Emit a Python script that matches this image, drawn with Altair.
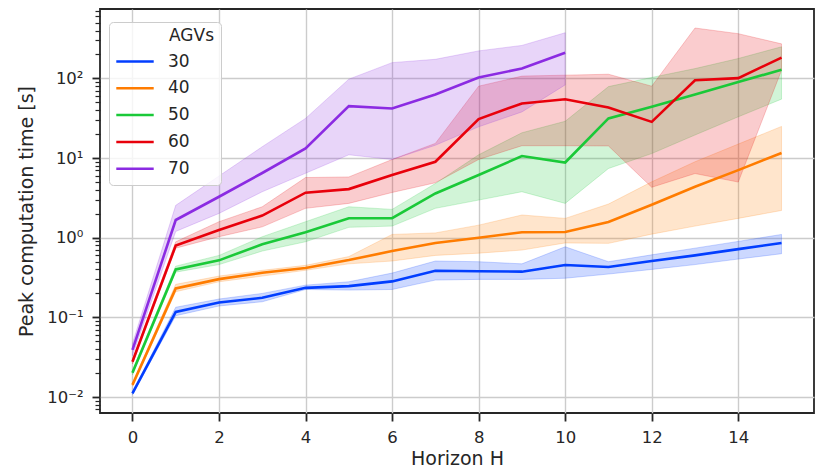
import altair as alt
import pandas as pd

H = list(range(16))
H70 = list(range(11))
groups = ["30", "40", "50", "60", "70"]
colors = ["#023eff", "#ff7c00", "#1ac938", "#e8000b", "#8b2be2"]

mean30 = [0.0111, 0.117, 0.154, 0.176, 0.235, 0.247, 0.283, 0.385, 0.38, 0.375, 0.455, 0.43, 0.51, 0.60, 0.72, 0.86]
lo30 = [0.0107, 0.105, 0.139, 0.157, 0.224, 0.22, 0.224, 0.294, 0.30, 0.30, 0.31, 0.35, 0.40, 0.46, 0.54, 0.63]
hi30 = [0.0116, 0.134, 0.17, 0.20, 0.254, 0.28, 0.36, 0.51, 0.50, 0.47, 0.77, 0.50, 0.61, 0.74, 0.90, 1.1]

mean40 = [0.0142, 0.231, 0.302, 0.363, 0.416, 0.524, 0.68, 0.86, 1.0, 1.17, 1.18, 1.58, 2.6, 4.36, 7.07, 11.6]
lo40 = [0.0137, 0.21, 0.28, 0.33, 0.39, 0.47, 0.51, 0.60, 0.64, 0.70, 0.86, 0.85, 1.11, 1.4, 1.75, 2.2]
hi40 = [0.0148, 0.26, 0.33, 0.39, 0.45, 0.58, 1.1, 1.15, 1.44, 1.93, 1.75, 2.65, 5.04, 9.0, 15.0, 25.0]

mean50 = [0.0202, 0.40, 0.52, 0.83, 1.17, 1.76, 1.76, 3.6, 6.13, 10.6, 8.8, 31.5, 44.0, 63.0, 90.0, 129.0]
lo50 = [0.019, 0.37, 0.46, 0.68, 0.89, 1.35, 1.4, 2.34, 2.97, 3.78, 2.7, 7.4, 11.4, 19.5, 33.0, 55.0]
hi50 = [0.0215, 0.44, 0.60, 1.03, 1.59, 2.45, 2.27, 4.8, 11.0, 20.8, 29.0, 79.0, 103.0, 133.0, 178.0, 250.0]

mean60 = [0.0277, 0.80, 1.25, 1.9, 3.68, 4.08, 6.13, 9.0, 30.9, 48.6, 54.9, 43.3, 28.5, 95.0, 101.0, 183.0]
lo60 = [0.026, 0.74, 1.03, 1.37, 2.34, 2.7, 3.7, 4.9, 9.6, 14.3, 14.3, 14.2, 4.3, 6.4, 5.0, 127.0]
hi60 = [0.0295, 0.89, 1.59, 2.45, 5.7, 5.8, 9.6, 15.3, 80.0, 107.0, 110.0, 113.0, 80.0, 430.0, 365.0, 272.0]

mean70 = [0.039, 1.67, 3.27, 6.5, 13.2, 45.0, 42.0, 63.0, 103.0, 133.0, 210.0]
lo70 = [0.033, 1.2, 2.02, 3.78, 6.45, 11.0, 9.6, 14.5, 24.7, 38.0, 83.0]
hi70 = [0.047, 2.55, 5.96, 13.9, 31.5, 98.0, 158.0, 174.0, 222.0, 260.0, 375.0]

series = [
    ("30", H, mean30, lo30, hi30),
    ("40", H, mean40, lo40, hi40),
    ("50", H, mean50, lo50, hi50),
    ("60", H, mean60, lo60, hi60),
    ("70", H70, mean70, lo70, hi70),
]
rows = []
for g, xs, m, lo, hi in series:
    for x, a, b, c in zip(xs, m, lo, hi):
        rows.append({"H": x, "AGVs": g, "mean": a, "lo": b, "hi": c})
df = pd.DataFrame(rows)

major_y = [0.01, 0.1, 1, 10, 100]
minor_y = [k * 10.0 ** e for e in range(-3, 3) for k in range(2, 10)]
minor_y = [v for v in minor_y if 0.0063 <= v <= 745]
y_ticks = sorted(major_y + minor_y)
x_ticks = [0, 2, 4, 6, 8, 10, 12, 14]

TXT = "#262626"
FONT = "DejaVu Sans"

xscale = alt.Scale(domain=[-0.75, 15.75], nice=False, zero=False)
yscale = alt.Scale(type="log", domain=[0.0063, 745], nice=False)
cscale = alt.Scale(domain=groups, range=colors)

is_major = "abs(log(datum.value) / LN10 - round(log(datum.value) / LN10)) < 1e-6"
label_expr = ("!(" + is_major + ") ? '' : "
              "datum.value < 0.05 ? '10\u207b\u00b2' : datum.value < 0.5 ? '10\u207b\u00b9' : "
              "datum.value < 5 ? '10\u2070' : datum.value < 50 ? '10\u00b9' : '10\u00b2'")

xaxis = alt.Axis(values=x_ticks, title="Horizon H", grid=True, gridColor="#cccccc",
                 gridWidth=1.4, domain=False, tickSize=8, tickWidth=1.8, tickColor=TXT,
                 labelFontSize=16.5, labelColor=TXT, labelPadding=8, titleFontSize=19,
                 titleColor=TXT, titleFontWeight="normal", titlePadding=4, format="d")
yaxis = alt.Axis(values=y_ticks, title="Peak computation time [s]", grid=True,
                 gridColor="#cccccc", gridWidth=1.4,
                 gridOpacity={"condition": {"test": is_major, "value": 1}, "value": 0},
                 domain=False,
                 tickSize={"condition": {"test": is_major, "value": 8}, "value": 5},
                 tickWidth={"condition": {"test": is_major, "value": 1.8}, "value": 1.2},
                 tickColor=TXT, labelFontSize=16.5, labelColor=TXT, labelOverlap=False,
                 labelPadding=9, labelExpr=label_expr, titleFontSize=19, titleColor=TXT,
                 titleFontWeight="normal", titlePadding=10)

legend = alt.Legend(
    title="\u200b" + "\u00a0" * 10 + "AGVs", orient="none", legendX=9, legendY=13,
    fillColor="rgba(255,255,255,0.8)", strokeColor="#cccccc", cornerRadius=4,
    padding=6, symbolType="stroke", symbolSize=1400, symbolStrokeWidth=2.5,
    clipHeight=19, rowPadding=7.8, labelOffset=13, labelFontSize=17,
    titleFontSize=17, titleFontWeight="normal", titlePadding=7,
    labelColor=TXT, titleColor=TXT, labelFont=FONT, titleFont=FONT,
)

base = alt.Chart(df)

band = base.mark_area(fillOpacity=0.2, strokeOpacity=0.2, strokeWidth=1).encode(
    x=alt.X("H:Q", scale=xscale, axis=xaxis),
    y=alt.Y("lo:Q", scale=yscale, axis=yaxis),
    y2="hi:Q",
    color=alt.Color("AGVs:N", scale=cscale, legend=legend),
    stroke=alt.Stroke("AGVs:N", scale=cscale, legend=None),
)

line = base.mark_line(strokeWidth=2.6).encode(
    x=alt.X("H:Q", scale=xscale, axis=xaxis),
    y=alt.Y("mean:Q", scale=yscale, axis=yaxis),
    color=alt.Color("AGVs:N", scale=cscale, legend=legend),
)

chart = alt.layer(band, line).properties(
    width=714, height=404,
    autosize=alt.AutoSizeParams(type="none"),
    padding={"left": 92, "top": 1, "right": 8, "bottom": 58},
).configure(font=FONT).configure_view(
    stroke=TXT, strokeWidth=1.8
).configure_axis(labelFont=FONT, titleFont=FONT)

chart.save("out.html", embed_options={"renderer": "svg", "actions": False})
